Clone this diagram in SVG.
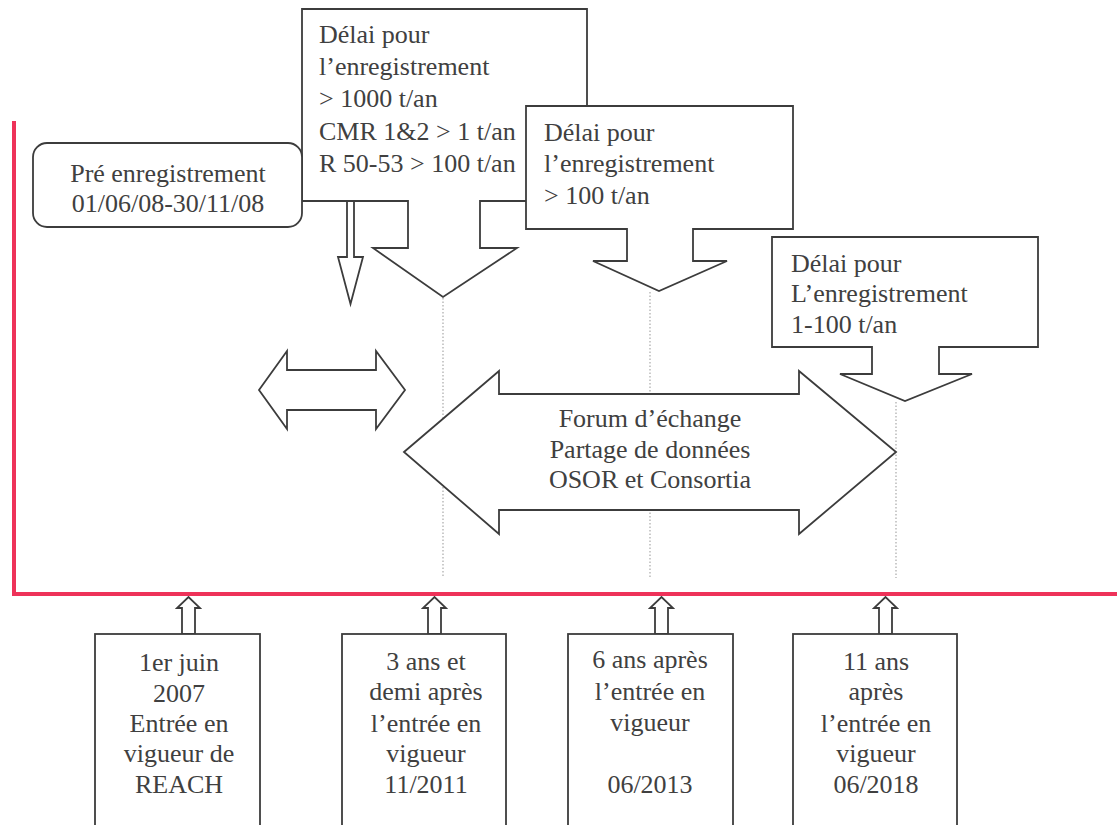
<svg xmlns="http://www.w3.org/2000/svg" width="1117" height="825" viewBox="0 0 1117 825">
<style>
.shape{fill:#fff;stroke:#3c3c3c;stroke-width:1.8;stroke-linejoin:miter}
.t{font-family:"Liberation Serif","Times New Roman",serif;font-size:26px;fill:#404040}
.c{text-anchor:middle}
.dot{stroke:#a8a8a8;stroke-width:1.2;stroke-dasharray:1.5 2;fill:none}
.red{stroke:#ee3259;stroke-width:4;fill:none}
</style>
<rect width="1117" height="825" fill="#fff"/>
<g id="connectors">
<line class="dot" x1="443" y1="298" x2="443" y2="578"/>
<line class="dot" x1="650" y1="292" x2="650" y2="578"/>
<line class="dot" x1="896" y1="402" x2="896" y2="578"/>
<polygon class="shape" points="347,201 347,257 338,257 350.5,304 363,257 354,257 354,201"/>
<polygon class="shape" points="182,634 182,608 177,608 188.5,597 200,608 195,608 195,634"/>
<polygon class="shape" points="428,634 428,608 423,608 434.5,597 446,608 441,608 441,634"/>
<polygon class="shape" points="655,634 655,608 650,608 661.5,597 673,608 668,608 668,634"/>
<polygon class="shape" points="879,634 879,608 874,608 885.5,597 897,608 892,608 892,634"/>
<polyline class="red" points="14,121 14,594 1117,594"/>
</g>
<g id="delai-1000">
<polygon class="shape" points="302,9 587,9 587,201 480,201 480,248 517,248 443,297 373,248 408,248 408,201 302,201"/>
<text class="t" x="319" y="43">Délai pour</text>
<text class="t" x="319" y="75">l’enregistrement</text>
<text class="t" x="319" y="107">&gt; 1000 t/an</text>
<text class="t" x="319" y="140">CMR 1&amp;2 &gt; 1 t/an</text>
<text class="t" x="319" y="172">R 50-53 &gt; 100 t/an</text>
</g>
<g id="pre-enregistrement">
<rect class="shape" x="33" y="143" width="269" height="84" rx="14"/>
<text class="t c" x="168" y="182">Pré enregistrement</text>
<text class="t c" x="168" y="212">01/06/08-30/11/08</text>
</g>
<g id="delai-100">
<polygon class="shape" points="526,106 793,106 793,229 693,229 693,261 727,261 659,291 593,261 627,261 627,229 526,229"/>
<text class="t" x="544" y="141">Délai pour</text>
<text class="t" x="544" y="172">l’enregistrement</text>
<text class="t" x="544" y="204">&gt; 100 t/an</text>
</g>
<g id="delai-1-100">
<polygon class="shape" points="772,237 1038,237 1038,347 939,347 939,374 972,374 905,401 840,374 872,374 872,347 772,347"/>
<text class="t" x="791" y="272">Délai pour</text>
<text class="t" x="791" y="302">L’enregistrement</text>
<text class="t" x="791" y="333">1-100 t/an</text>
</g>
<g id="small-double-arrow">
<polygon class="shape" points="259,390 287,351 287,370 376,370 376,351 405,390 376,429 376,410 287,410 287,429"/>
</g>
<g id="forum">
<polygon class="shape" points="404,452 499,371 499,394 799,394 799,371 896,452 799,534 799,510 499,510 499,534"/>
<text class="t c" x="650" y="427">Forum d’échange</text>
<text class="t c" x="650" y="458">Partage de données</text>
<text class="t c" x="650" y="488">OSOR et Consortia</text>
</g>
<g id="date-2007">
<rect class="shape" x="95" y="634" width="165" height="200"/>
<text class="t c" x="179" y="671">1er juin</text>
<text class="t c" x="179" y="702">2007</text>
<text class="t c" x="179" y="732">Entrée en</text>
<text class="t c" x="179" y="762">vigueur de</text>
<text class="t c" x="179" y="793">REACH</text>
</g>
<g id="date-2011">
<rect class="shape" x="342" y="634" width="164" height="200"/>
<text class="t c" x="426" y="670">3 ans et</text>
<text class="t c" x="426" y="700">demi après</text>
<text class="t c" x="426" y="732">l’entrée en</text>
<text class="t c" x="426" y="762">vigueur</text>
<text class="t c" x="426" y="793">11/2011</text>
</g>
<g id="date-2013">
<rect class="shape" x="568" y="634" width="165" height="200"/>
<text class="t c" x="650" y="668">6 ans après</text>
<text class="t c" x="650" y="700">l’entrée en</text>
<text class="t c" x="650" y="731">vigueur</text>
<text class="t c" x="650" y="793">06/2013</text>
</g>
<g id="date-2018">
<rect class="shape" x="793" y="634" width="164" height="200"/>
<text class="t c" x="876" y="670">11 ans</text>
<text class="t c" x="876" y="700">après</text>
<text class="t c" x="876" y="732">l’entrée en</text>
<text class="t c" x="876" y="762">vigueur</text>
<text class="t c" x="876" y="793">06/2018</text>
</g>
</svg>
